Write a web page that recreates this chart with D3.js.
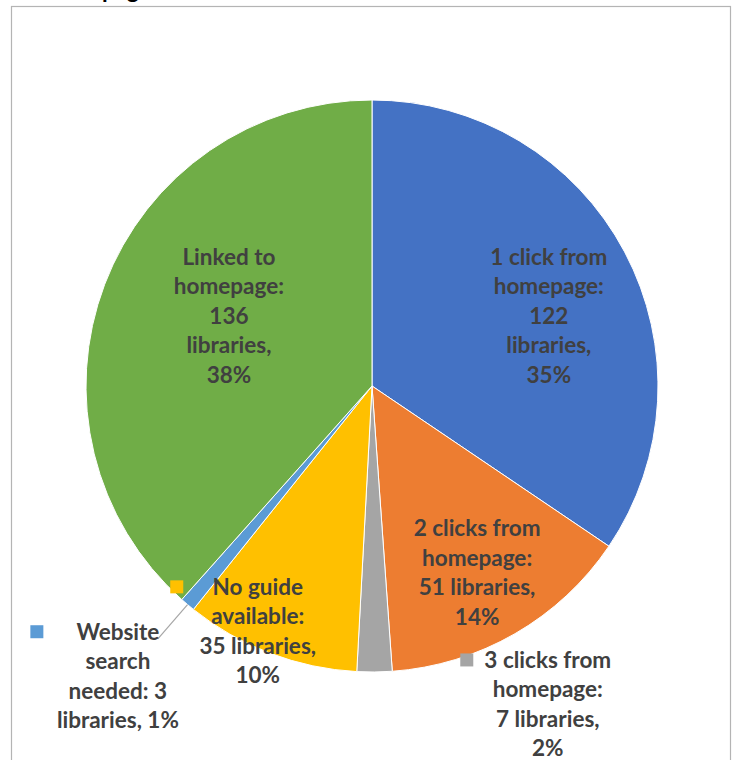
<!DOCTYPE html>
<html>
<head>
<meta charset="utf-8">
<script src="https://cdn.jsdelivr.net/npm/d3@7"></script>
<style>
  body { margin: 0; background: #fff; }
  svg { display: block; }
</style>
</head>
<body>
<div id="chart"></div>
<script>
// slice data, clockwise from 12 o'clock
const categories = ["1 click from homepage", "2 clicks from homepage", "3 clicks from homepage",
  "No guide available", "Website search needed", "Linked to homepage"];
const libraries = [122, 51, 7, 35, 3, 136];
const percents = ["35%", "14%", "2%", "10%", "1%", "38%"];
const labelLines = [
  ["1 click from", "homepage:", "122", "libraries,", "35%"],
  ["2 clicks from", "homepage:", "51 libraries,", "14%"],
  ["3 clicks from", "homepage:", "7 libraries,", "2%"],
  ["No guide", "available:", "35 libraries,", "10%"],
  ["Website", "search", "needed: 3", "libraries, 1%"],
  ["Linked to", "homepage:", "136", "libraries,", "38%"]
];
const colors = ["#4472C4", "#ED7D31", "#A5A5A5", "#FFC000", "#5B9BD5", "#70AD47"];

const width = 738;
const height = 760;
const cx = 372, cy = 386;
const radius = 286;
const lineHeight = 29.5;

// label nudges from the slice centroid (at 0.7 radius), and which labels carry a key
const labelNudge = [[0, 24], [5, 13], [174, 118], [-43, 58], [-125, 137], [44, 1]];
const hasKey = [false, false, true, true, true, false];

const svg = d3.select("#chart")
  .append("svg")
    .attr("width", width)
    .attr("height", height);

// chart border
svg.append("rect")
    .attr("x", 11.5)
    .attr("y", 6.5)
    .attr("width", 719)
    .attr("height", 800)
    .attr("fill", "none")
    .attr("stroke", "#b4b4b4")
    .attr("stroke-width", 1.2);

// title, mostly outside the visible area
svg.append("text")
    .attr("x", 151)
    .attr("y", -2)
    .attr("text-anchor", "end")
    .attr("font-family", "Lato, 'DejaVu Sans', sans-serif")
    .attr("font-weight", "bold")
    .attr("font-size", 23)
    .attr("fill", "#000")
    .text("Clicks from homepage");

const pie = d3.pie().sort(null).value(d => d);
const arcs = pie(libraries);

const arc = d3.arc().innerRadius(0).outerRadius(radius);
const labelArc = d3.arc().innerRadius(radius * 0.7).outerRadius(radius * 0.7);

const g = svg.append("g").attr("transform", `translate(${cx},${cy})`);

g.selectAll("path")
  .data(arcs)
  .join("path")
    .attr("d", arc)
    .attr("fill", (d, i) => colors[i])
    .attr("stroke", "#fff")
    .attr("stroke-width", 1);

const labelPos = arcs.map((d, i) => {
  const c = labelArc.centroid(d);
  return [c[0] + labelNudge[i][0], c[1] + labelNudge[i][1]];
});

// leader line for the small slice
const small = 4;
const edge = d3.pointRadial((arcs[small].startAngle + arcs[small].endAngle) / 2, radius);
g.append("line")
    .attr("x1", edge[0])
    .attr("y1", edge[1])
    .attr("x2", labelPos[small][0] + 40)
    .attr("y2", labelPos[small][1] - 37)
    .attr("stroke", "#a6a6a6")
    .attr("stroke-width", 1.2);

const labels = g.selectAll("g.label")
  .data(arcs)
  .join("g")
    .attr("class", "label")
    .attr("transform", (d, i) => `translate(${labelPos[i][0]},${labelPos[i][1]})`);

labels.each(function(d, i) {
  const lines = labelLines[i];
  const top = -(lines.length - 1) / 2 * lineHeight;
  const t = d3.select(this).append("text")
      .attr("text-anchor", "middle")
      .attr("font-family", "Lato, 'DejaVu Sans', sans-serif")
      .attr("font-weight", "bold")
      .attr("font-size", 22.5)
      .attr("fill", "#404040");
  t.selectAll("tspan")
    .data(lines)
    .join("tspan")
      .attr("x", 0)
      .attr("y", (l, j) => top + j * lineHeight)
      .attr("dy", "0.35em")
      .text(l => l);
  if (hasKey[i]) {
    d3.select(this).append("rect")
        .attr("x", -81 - 6.5)
        .attr("y", top - 6.5)
        .attr("width", 13)
        .attr("height", 13)
        .attr("fill", colors[i]);
  }
});
</script>
</body>
</html>
